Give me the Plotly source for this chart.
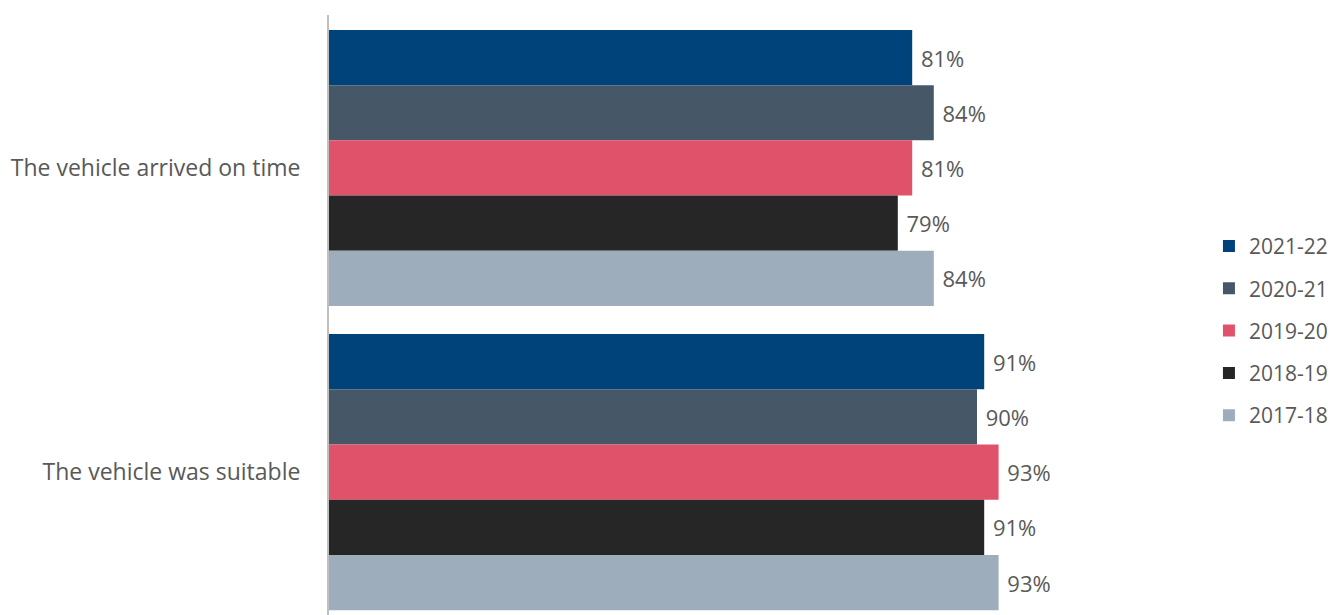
import plotly.graph_objects as go

categories = ["The vehicle arrived on time", "The vehicle was suitable"]
years = ["2021-22", "2020-21", "2019-20", "2018-19", "2017-18"]
values = {
    "2021-22": [81, 91],
    "2020-21": [84, 90],
    "2019-20": [81, 93],
    "2018-19": [79, 91],
    "2017-18": [84, 93],
}
colors = {
    "2021-22": "#00427A",
    "2020-21": "#465867",
    "2019-20": "#E0526A",
    "2018-19": "#262626",
    "2017-18": "#9EADBB",
}

FONT = "Open Sans"
TEXT_COLOR = "#595959"
PAD = "\u00a0"

fig = go.Figure()
for i, yr in enumerate(years):
    fig.add_trace(go.Bar(
        y=categories,
        x=values[yr],
        orientation="h",
        name=yr,
        legendgroup=f"g{i}",
        marker=dict(color=colors[yr], line=dict(width=0)),
        text=[f"{PAD}{v}%" for v in values[yr]],
        textposition="outside",
        textfont=dict(family=FONT, size=22, color=TEXT_COLOR),
        cliponaxis=False,
        hoverinfo="skip",
    ))

fig.update_layout(
    width=1331,
    height=615,
    margin=dict(l=329, r=282, t=15, b=0, autoexpand=False),
    paper_bgcolor="white",
    plot_bgcolor="white",
    barmode="group",
    bargap=0.092,
    bargroupgap=0,
    font=dict(family=FONT, color=TEXT_COLOR),
    legend=dict(
        xref="container", yref="container",
        x=0.9083, y=0.462, xanchor="left", yanchor="middle",
        traceorder="grouped",
        tracegroupgap=12,
        font=dict(family=FONT, size=21, color=TEXT_COLOR),
        itemwidth=30,
    ),
    showlegend=True,
)
fig.update_xaxes(range=[0, 100], visible=False, showgrid=False, zeroline=False)
fig.update_yaxes(
    type="category",
    range=[1.470, -0.503],
    showline=True, linecolor="#BFBFBF", linewidth=2,
    showgrid=False, zeroline=False, ticks="",
    ticklabelstandoff=22,
    tickfont=dict(family=FONT, size=23, color=TEXT_COLOR),
)

fig.write_html("out.html")
